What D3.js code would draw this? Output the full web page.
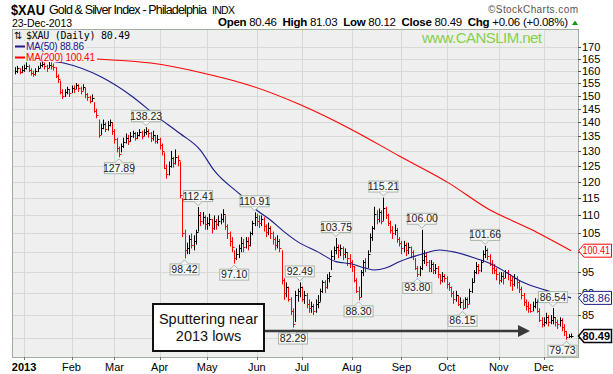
<!DOCTYPE html>
<html>
<head>
<meta charset="utf-8">
<script src="https://d3js.org/d3.v7.min.js"></script>
<style>
  body { margin:0; background:#fff; }
  svg { display:block; font-family:"Liberation Sans", Arial, sans-serif; }
</style>
</head>
<body>
<script>
// daily bars, one entry per trading day
const closes = [
  160,161,159.5,160.5,161, 162,160.5,159,158.5,160,
  161,162.5,163,162,161,162.5,162,161.5, 158,156.5,151.5,150,
  151.5,152.5,151,153,152.5,154,153,152,153.5, 150.5,149.5,148,149,
  144,142.5,135.5, 138,139.5,137.5,139,140, 137,134,131,129,
  131.5,133,134.5,133.5,135,136,134.5,135.5,136.5,135,136.5, 137,
  136,134.5,135.5,133.5,134, 132,130,124.5,122.5, 125,127.5,126,128,127,
  116,105, 100.5,101,103.5,102,103,105.5, 110,
  108.5,109.5,107.5,108,109,106.5,108.5,107.5,108.5,109, 110.5,
  107,105,103,101.5, 98.5, 99.5, 101,102.5,101.5,103,102,
  105,108,109.5,108.5,108, 109,107,105.5,106.5,105, 103.5,102,103,101,
  93,90,91.5,88.5,86,83,89.5,90.5,91.5,
  88.5,89.5,87.5,86.5,87,86,87.5,88, 90.5,92.5,91.5,93.5,94,
  99,100.5,101.5, 100.5,101,99.5,100,98.5,97.5,96.5, 93,90.5,89,
  95,97.5,96,99.5,104,106.5, 110.5,109,111,108.5,112,110,
  108,106,105,106,103.5,102.5, 101,102,100.5,101.5,100,99,
  96,94.5,96,98, 99,97.5,96,97,95.5,96,94.5, 93,94,93.5,92,91.5,
  90,88.5,89.5,87.5,88,86.5, 88.5,87.5,90.5,92.5, 95,96.5,95.5,97.5,
  99.5,100.5,99, 97,96,95.5, 94.5,93,94,93.5,95,94.5, 93,92,93.5,92.5,
  91,89.5,88,87, 86.5,86,87,88, 86,84,83, 83.5,84.5,83.5,84,84.5,
  83.5,83,84,82.5,81.5, 80.2,80.43,80.49
];
const highs = [
  161.5,162,161,162,162.5, 163.5,162.5,161,160,161,
  162,163.5,164,163.5,162.5,163.8,163.5,163, 161.5,158.5,156,152.5,
  152.5,153.5,152.5,154,154,155,154.5,153.5,154.5, 153,151,150,150.5,
  147.5,145,141, 139.5,141,140,140.5,141, 140,137.5,134.5,131.5,
  132.5,134.5,136,135.5,136.5,137,136.5,136.5,137.5,137,137.5, 138.23,
  137.5,136.5,137,135.5,135.5, 134.5,132.5,129.5,125.5, 126.5,130,128,130.5,128.5,
  126.5,115, 106,102.5,104.5,105,104.5,106, 112.41,
  111,111,110,109.5,110.5,109,110,109,110,110.5, 111.8,
  110,107.5,105.5,104, 100.5, 101, 102,104,103.5,104,104,
  105.5,108.5,110.91,110.5,110, 110,109.5,107.5,108,107, 105.5,104,104.5,103.5,
  100.5,93.5,92.5,91.5,89,86.5,90.5,91,92.49,
  91.5,90.5,90,88.5,88,87.5,88.5,89.5, 91,93,93,94.5,95,
  100.5,101.5,103.75, 102,102,101.5,101,100,99.5,98, 96.5,93.5,91.5,
  95.5,98,98.5,100.5,105,107, 112.5,111.5,112,111.5,115.21,112.5,
  110.5,108.5,107,107.5,106.5,104, 103,103,102.5,102.5,101.5,100.5,
  98.5,96.5,96.5,106, 100.5,100,98,98,97.5,97,96.5, 94.5,95,94.5,94,92.5,
  91.5,90.5,90.5,89.5,89,88.5, 89,89,91,93.5, 95.5,97.5,97,98,
  100.5,101.66,101, 99.5,98,97, 96,95,95,95,95.5,95.5, 94.5,94,94.5,94,
  93,91.5,90,88.5, 88,87.5,88,88.8, 88.5,86.5,84.5, 84.5,85.5,85,85,86.54,
  84.5,84,84.5,84.3,83, 81.5,80.9,81.03
];
const lows = [
  158.5,159,158.5,159,159.5, 160.5,159.5,158,157.5,158,
  159.5,161,161.5,160.5,159.5,161,160.5,160, 157,155,150.5,148.7,
  149.5,150.5,149.5,151,151,152.5,151.5,150.5,152, 149,148,147,147.5,
  143.5,141.5,134.5, 135.5,137.5,136.5,137,138.5, 135.5,132.5,129.5,127.89,
  129.5,131,132.5,132,133,134.5,133.5,134,135,134,135, 135.5,
  134.5,133,133.5,132.5,132.5, 130.5,128.5,124,121, 122,124.5,124.5,125.5,125,
  115,104, 98.42,99.5,99.5,101,100.5,102, 105.5,
  107,107.5,106,106,107,105,106,106,107,107.5, 108,
  106,103.5,101.5,100, 97.10, 98, 98.5,100,100,101,100.5,
  101.5,104.5,107,107,106.5, 107,105.5,104,104.5,103.5, 102,100.5,101,100,
  92,88.4,89,88,85,82.29,83.5,88,89,
  88,87.5,86.5,85.5,85.5,85,85.5,86.5, 88,90,90,91,92.5,
  95.5,98,99.5, 98.5,99,98,98.5,96.5,96,95, 92.5,90,88.3,
  89,94,95,96,100,103, 106,107.5,108,107.5,108.5,109,
  107,105,103.5,104.5,102.5,101.5, 99.5,100,99,99.5,98.5,98,
  95.5,93.8,94,95.5, 97,96.5,95,95,94.5,94.5,93.5, 92,92.5,92.5,91,90.5,
  89,87.5,88,87,86.5,86.15, 86.5,86.5,87.5,90, 92.5,94.5,94.5,95,
  97.5,98.5,98, 96.5,94.5,94.5, 93,92,92.5,92,93.5,93, 91.5,90.5,91.5,91,
  90,88.5,87,86, 85.5,85.5,85.8,86.5, 85.5,83.5,82.3, 82.5,83,82.5,83,83,
  82.5,82,82.5,81.5,80.5, 79.73,80.1,80.12
];

// moving averages read at points along each line: [bar, value]
const ma50Pts = [[0,165.5],[10,164.5],[22,163.1],[38,157.5],[52,149.6],[63,142.0],[73,136.0],
  [82,130.3],[88,123.7],[100,115.9],[107,111.5],[113,108.7],[119,105.5],[125,102.8],[134,100.1],
  [142,97.6],[149,97.0],[155,96.0],[159,95.5],[164,96.0],[170,97.6],[181,99.7],[188,100.6],
  [194,100.1],[204,98.4],[210,97.2],[218,94.7],[224,92.7],[235,90.6],[246,88.86]];
const ma200Pts = [[0,166.5],[15,165.8],[36,164.9],[60,163.2],[82,159.3],[104,154.0],[126,146.6],
  [148,137.8],[170,128.3],[192,119.6],[209,112.0],[228,106.2],[246,100.41]];

const monthIdx = [4,25,44,64,85,107,127,149,171,191,214,234];
const monthLabels = ["2013","Feb","Mar","Apr","May","Jun","Jul","Aug","Sep","Oct","Nov","Dec"];
const yTicks = [80,85,90,95,100,105,110,115,120,125,130,135,140,145,150,155,160,165,170];
// labels at 80 and 100 sit fully under the last-value tags
const yTickLabels = [85,90,95,105,110,115,120,125,130,135,140,145,150,155,160,165,170];

// peak / trough labels
const annBars = [58,46,81,75,106,97,126,123,142,152,163,180,178,208,198,238,244];
const annVals = [138.23,127.89,112.41,98.42,110.91,97.10,92.49,82.29,103.75,88.30,115.21,106.00,93.80,101.66,86.15,86.54,79.73];
const annUp   = [1,0,1,0,1,0,1,0,1,0,1,1,0,1,0,1,0];

const quoteNames = ["Open","High","Low","Close","Chg"];
const quoteVals = ["80.46","81.03","80.12","80.49","+0.06 (+0.08%)"];

const width = 613, height = 374;
const plot = { left: 12, right: 578, top: 29, bottom: 357 };
const bg = '#efefef', grid = '#d5dad5';

const svg = d3.select("body").append("svg")
  .attr("width", width).attr("height", height);

const x = d3.scaleLinear().domain([0, 246]).range([15, 571]);
const y = d3.scaleLog().domain([76.25, 178.25]).range([plot.bottom, plot.top]);

svg.append('defs').append('clipPath').attr('id','clip')
  .append('rect').attr('x', plot.left).attr('y', plot.top)
  .attr('width', plot.right - plot.left).attr('height', plot.bottom - plot.top);

svg.append('rect').attr('x', plot.left).attr('y', plot.top)
  .attr('width', plot.right - plot.left).attr('height', plot.bottom - plot.top)
  .attr('fill', bg);

// grid
const gridG = svg.append('g').attr('stroke', grid).attr('stroke-width', 1);
gridG.selectAll('line.h').data(yTicks).enter().append('line')
  .attr('x1', plot.left).attr('x2', plot.right)
  .attr('y1', d => Math.round(y(d)) + 0.5).attr('y2', d => Math.round(y(d)) + 0.5);
gridG.selectAll('line.v').data(monthIdx).enter().append('line')
  .attr('y1', plot.top).attr('y2', plot.bottom)
  .attr('x1', d => Math.round(x(d)) + 0.5).attr('x2', d => Math.round(x(d)) + 0.5);

// price bars
const barG = svg.append('g').attr('clip-path', 'url(#clip)');
const barCol = (d, i) => (i > 0 && closes[i] < closes[i-1]) ? '#ff0000' : '#000000';
barG.selectAll('line.hl').data(closes).enter().append('line')
  .attr('x1', (d, i) => Math.round(x(i)) + 0.5).attr('x2', (d, i) => Math.round(x(i)) + 0.5)
  .attr('y1', (d, i) => y(highs[i])).attr('y2', (d, i) => y(lows[i]))
  .attr('stroke', barCol).attr('stroke-width', 1);
barG.selectAll('line.cl').data(closes).enter().append('line')
  .attr('x1', (d, i) => Math.round(x(i)) + 1).attr('x2', (d, i) => Math.round(x(i)) + 2.5)
  .attr('y1', d => Math.round(y(d)) + 0.5).attr('y2', d => Math.round(y(d)) + 0.5)
  .attr('stroke', barCol).attr('stroke-width', 1);

// moving averages
const maLine = d3.line().x(d => x(d[0])).y(d => y(d[1])).curve(d3.curveMonotoneX);
barG.append('path').attr('d', maLine(ma200Pts)).attr('fill', 'none')
  .attr('stroke', '#ff0000').attr('stroke-width', 1.1);
barG.append('path').attr('d', maLine(ma50Pts)).attr('fill', 'none')
  .attr('stroke', '#1a1a8c').attr('stroke-width', 1.1);

// legend
const lg = svg.append('g');
lg.append('rect').attr('x', 13).attr('y', 30).attr('width', 122).attr('height', 10).attr('fill', bg);
lg.append('rect').attr('x', 13).attr('y', 41).attr('width', 73).attr('height', 10).attr('fill', bg);
lg.append('rect').attr('x', 13).attr('y', 52).attr('width', 84).attr('height', 10).attr('fill', bg);
lg.append('text').attr('x', 14).attr('y', 38.5).attr('font-size', 10)
  .attr('font-family', 'DejaVu Sans').text('⇅');
lg.append('text').attr('x', 26).attr('y', 38.5).attr('font-size', 10)
  .attr('font-family', '"DejaVu Sans Mono", monospace').attr('textLength', 104)
  .text('$XAU (Daily) ' + closes[closes.length-1].toFixed(2));
lg.append('line').attr('x1', 15).attr('x2', 25).attr('y1', 46.5).attr('y2', 46.5)
  .attr('stroke', '#1a1a8c').attr('stroke-width', 2);
lg.append('text').attr('x', 26).attr('y', 50).attr('font-size', 10).attr('fill', '#1a1a8c')
  .attr('textLength', 58).text('MA(50) ' + ma50Pts[ma50Pts.length-1][1].toFixed(2));
lg.append('line').attr('x1', 15).attr('x2', 25).attr('y1', 57.5).attr('y2', 57.5)
  .attr('stroke', '#ff0000').attr('stroke-width', 2);
lg.append('text').attr('x', 26).attr('y', 61).attr('font-size', 10).attr('fill', '#ff0000')
  .attr('textLength', 69).text('MA(200) ' + ma200Pts[ma200Pts.length-1][1].toFixed(2));

// watermark
svg.append('text').attr('x', 422).attr('y', 43).attr('font-size', 15).attr('fill', '#86d04a')
  .attr('textLength', 120).text('www.CANSLIM.net');

// peak / trough annotations
const annG = svg.append('g');
annVals.forEach((v, k) => {
  const bw = 29, bh = 11;
  let cx = x(annBars[k]);
  let bx = Math.min(Math.max(cx - bw / 2, plot.left + 1), plot.right - bw - 1);
  const py = y(v);
  let tip, top, base;
  if (annUp[k]) { tip = py - 1.5; base = tip - 4; top = base - bh; }
  else { tip = py + 1.5; base = tip + 4; top = base; }
  annG.append('rect').attr('x', bx).attr('y', top).attr('width', bw).attr('height', bh)
    .attr('fill', '#f7f7f7').attr('stroke', '#a9b5a9').attr('stroke-width', 1);
  annG.append('path')
    .attr('d', `M${cx-4},${base} L${cx},${tip} L${cx+4},${base}`)
    .attr('fill', '#f7f7f7').attr('stroke', '#a9b5a9').attr('stroke-width', 1);
  annG.append('text').attr('x', bx + bw / 2).attr('y', top + bh - 2)
    .attr('text-anchor', 'middle').attr('font-size', 10.5).attr('fill', '#222')
    .text(v.toFixed(2));
});

// callout box and arrow
svg.append('rect').attr('x', 153).attr('y', 304).attr('width', 111).attr('height', 47)
  .attr('fill', '#fff').attr('stroke', '#111').attr('stroke-width', 2);
svg.append('text').attr('x', 208.5).attr('y', 324).attr('text-anchor', 'middle')
  .attr('font-size', 14.5).attr('fill', '#111').text('Sputtering near');
svg.append('text').attr('x', 208.5).attr('y', 341).attr('text-anchor', 'middle')
  .attr('font-size', 14.5).attr('fill', '#111').text('2013 lows');
svg.append('line').attr('x1', 265).attr('x2', 520).attr('y1', 331).attr('y2', 331)
  .attr('stroke', '#3a3a3a').attr('stroke-width', 2.5);
svg.append('path').attr('d', 'M518,325 L530,331 L518,337 Z').attr('fill', '#3a3a3a');

// plot border
svg.append('rect').attr('x', plot.left + 0.5).attr('y', plot.top + 0.5)
  .attr('width', plot.right - plot.left).attr('height', plot.bottom - plot.top)
  .attr('fill', 'none').attr('stroke', '#9fae9f').attr('stroke-width', 1);

// right axis
const yAx = svg.append('g');
yAx.selectAll('line').data(yTicks).enter().append('line')
  .attr('x1', plot.right).attr('x2', plot.right + 3)
  .attr('y1', d => Math.round(y(d)) + 0.5).attr('y2', d => Math.round(y(d)) + 0.5)
  .attr('stroke', '#555');
yAx.selectAll('text').data(yTickLabels).enter().append('text')
  .attr('x', 582).attr('y', d => y(d) + 4).attr('font-size', 11).attr('fill', '#000')
  .text(d => d);

// bottom axis
const xAx = svg.append('g');
xAx.selectAll('line').data(monthIdx).enter().append('line')
  .attr('x1', d => Math.round(x(d)) + 0.5).attr('x2', d => Math.round(x(d)) + 0.5)
  .attr('y1', plot.bottom).attr('y2', plot.bottom + 3).attr('stroke', '#777');
xAx.selectAll('text').data(monthIdx).enter().append('text')
  .attr('x', d => x(d)).attr('y', 371).attr('text-anchor', 'middle')
  .attr('font-size', 11).attr('font-weight', (d, i) => i === 0 ? 'bold' : 'normal')
  .text((d, i) => monthLabels[i]);

// last-value tags on the right
const tags = [
  { v: ma200Pts[ma200Pts.length-1][1], c: '#ff0000', b: false },
  { v: ma50Pts[ma50Pts.length-1][1], c: '#1a1a8c', b: false },
  { v: closes[closes.length-1], c: '#000000', b: true }
];
tags.forEach(t => {
  const ty = y(t.v);
  svg.append('path')
    .attr('d', `M578.5,${ty} L584,${ty-6.5} L611.5,${ty-6.5} L611.5,${ty+6.5} L584,${ty+6.5} Z`)
    .attr('fill', '#fff').attr('stroke', t.c).attr('stroke-width', t.b ? 1.5 : 1);
  svg.append('text').attr('x', 582.5).attr('y', ty + 3.8)
    .attr('font-size', 10.5).attr('font-weight', t.b ? 'bold' : 'normal')
    .attr('textLength', 27.5).attr('lengthAdjust', 'spacingAndGlyphs')
    .attr('fill', t.c).text(t.v.toFixed(2));
});

// header
svg.append('text').attr('x', 11).attr('y', 14.5).attr('font-size', 15).attr('font-weight', 'bold')
  .attr('textLength', 34).attr('lengthAdjust', 'spacingAndGlyphs').text('$XAU');
svg.append('text').attr('x', 49).attr('y', 14).attr('font-size', 12.5)
  .attr('textLength', 158).text('Gold & Silver Index - Philadelphia');
svg.append('text').attr('x', 212).attr('y', 14).attr('font-size', 10.5)
  .attr('textLength', 23).text('INDX');
svg.append('text').attr('x', 12).attr('y', 26.5).attr('font-size', 10.5)
  .attr('textLength', 60).text('23-Dec-2013');
const q = svg.append('text').attr('x', 218).attr('y', 26).attr('font-size', 11.5)
  .attr('textLength', 350).attr('xml:space', 'preserve');
quoteNames.forEach((n, i) => {
  q.append('tspan').attr('font-weight', 'bold').text((i ? '  ' : '') + n);
  q.append('tspan').text(' ' + quoteVals[i]);
});
svg.append('path').attr('d', 'M572,25 L575,20.5 L578,25 Z').attr('fill', '#00a000');
svg.append('text').attr('x', 488).attr('y', 12.5).attr('font-size', 10).attr('fill', '#555')
  .attr('textLength', 90).text('©StockCharts.com');
</script>
</body>
</html>
